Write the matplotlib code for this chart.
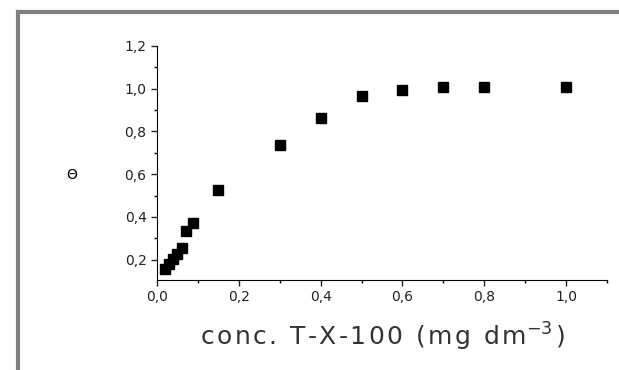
import matplotlib
matplotlib.use("Agg")
import matplotlib.pyplot as plt
from matplotlib.patches import Rectangle
from matplotlib.ticker import MultipleLocator, FuncFormatter

# surface coverage vs surfactant concentration
conc = [0.02, 0.03, 0.04, 0.05, 0.062, 0.07, 0.087, 0.15, 0.3, 0.4, 0.5, 0.6, 0.7, 0.8, 1.0]
theta = [0.157, 0.18, 0.203, 0.227, 0.255, 0.333, 0.371, 0.527, 0.735, 0.862, 0.965, 0.992, 1.006, 1.006, 1.006]

xticks = [0.0, 0.2, 0.4, 0.6, 0.8, 1.0]
yticks = [0.2, 0.4, 0.6, 0.8, 1.0, 1.2]

fig = plt.figure(figsize=(6.19, 3.70), dpi=100)
ax = fig.add_axes([0.2536, 0.2432, 0.727, 0.6325])

ax.plot(conc, theta, "ks", markersize=6.5, linestyle="none")

ax.set_xlim(0, 1.1)
ax.set_ylim(0.105, 1.2)
ax.set_xticks(xticks)
ax.set_yticks(yticks)
ax.xaxis.set_minor_locator(MultipleLocator(0.1))
ax.yaxis.set_minor_locator(MultipleLocator(0.1))
comma = FuncFormatter(lambda v, p: ("%.1f" % v).replace(".", ","))
ax.xaxis.set_major_formatter(comma)
ax.yaxis.set_major_formatter(comma)
ax.tick_params(which="major", direction="out", length=4, width=1, labelsize=10, colors="#222222")
ax.tick_params(which="minor", direction="out", length=2, width=1)
ax.spines["top"].set_visible(False)
ax.spines["right"].set_visible(False)

# the original label is letter-spaced; hair spaces between characters
spaced = "\u200a".join("conc. T-X-100 (mg dm")
ax.set_xlabel(spaced + "$^{-3}$\u200a)", fontsize=18, color="#333333", va="center")
ax.xaxis.set_label_coords(0.5, -0.244)
fig.text(71.7 / 619, 1 - 175 / 370, "Θ", fontsize=10, ha="center", va="center")

# grey frame around the picture
fig.patches.append(Rectangle((17.5 / 619, -0.1), 1.2, 1 - 11.5 / 370 + 0.1,
                             transform=fig.transFigure, fill=False,
                             edgecolor="#808080", linewidth=3))

plt.savefig("out.png", dpi=100)
